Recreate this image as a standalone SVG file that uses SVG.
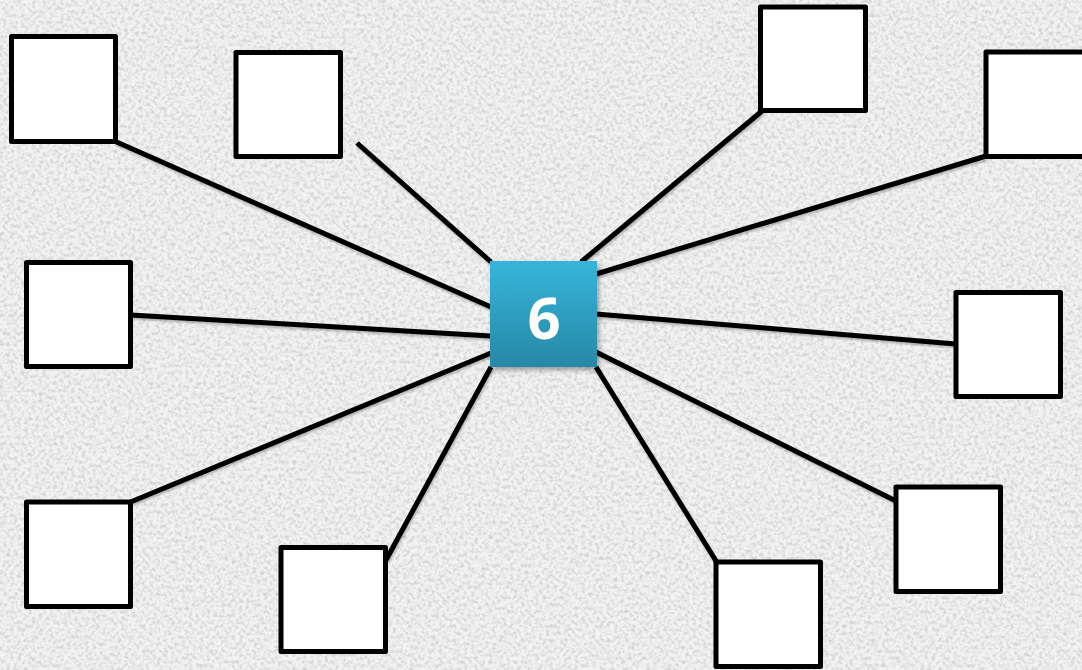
<svg xmlns="http://www.w3.org/2000/svg" width="1082" height="670" viewBox="0 0 1082 670">
<defs>
<filter id="noise" x="0" y="0" width="100%" height="100%">
<feTurbulence type="fractalNoise" baseFrequency="0.28" numOctaves="3" seed="7" result="t"/>
<feColorMatrix in="t" type="matrix" values="0 0 0 0 0  0 0 0 0 0  0 0 0 0 0  -1.6 0 0 0 0.95"/>
</filter>
<filter id="shadow" x="-20%" y="-20%" width="140%" height="140%">
<feDropShadow dx="2" dy="3" stdDeviation="2.5" flood-color="#000" flood-opacity="0.35"/>
</filter>
<filter id="lshadow" x="-10%" y="-10%" width="120%" height="120%">
<feDropShadow dx="1" dy="2" stdDeviation="1.2" flood-color="#000" flood-opacity="0.25"/>
</filter>
<linearGradient id="blue" x1="0" y1="0" x2="0" y2="1">
<stop offset="0" stop-color="#35b5da"/>
<stop offset="1" stop-color="#2888a6"/>
</linearGradient>
<style>
.box{fill:#fff;stroke:#000;stroke-width:5;stroke-linejoin:round}
.con line{stroke:#000;stroke-width:5;stroke-linecap:butt}
.lbl{font-family:"Open Sans","Liberation Sans",sans-serif;font-weight:700;font-size:58px;fill:#fff;text-anchor:middle}
</style>
</defs>
<rect width="1082" height="670" fill="#f2f2f2"/>
<rect width="1082" height="670" filter="url(#noise)" opacity="0.2"/>
<g id="connectors" class="con" filter="url(#lshadow)">
<line x1="115.5" y1="141.5" x2="491" y2="307"/>
<line x1="357" y1="143" x2="491" y2="262"/>
<line x1="762" y1="111" x2="581" y2="262"/>
<line x1="986" y1="156" x2="596" y2="274"/>
<line x1="130.5" y1="315" x2="491" y2="336"/>
<line x1="596" y1="314" x2="956" y2="344"/>
<line x1="130.5" y1="502" x2="491" y2="353"/>
<line x1="386" y1="560" x2="491" y2="367"/>
<line x1="596" y1="352" x2="896" y2="501"/>
<line x1="596" y1="367" x2="716" y2="561"/>
</g>
<g id="node-center" filter="url(#shadow)">
<rect x="490" y="261" width="107" height="106" fill="url(#blue)"/>
<text class="lbl" x="544" y="339">6</text>
</g>
<g id="node-1"><rect class="box" x="11.5" y="36.5" width="104" height="105"/></g>
<g id="node-2"><rect class="box" x="236" y="52.5" width="104.5" height="104"/></g>
<g id="node-3"><rect class="box" x="760.5" y="7" width="105" height="103.5"/></g>
<g id="node-4"><rect class="box" x="986" y="52" width="104" height="104.5"/></g>
<g id="node-5"><rect class="box" x="26.5" y="262.5" width="104" height="104"/></g>
<g id="node-6"><rect class="box" x="956" y="292.5" width="104.5" height="104"/></g>
<g id="node-7"><rect class="box" x="26.5" y="502" width="104" height="104.5"/></g>
<g id="node-8"><rect class="box" x="281" y="547.5" width="104.5" height="104"/></g>
<g id="node-9"><rect class="box" x="896" y="487" width="104.5" height="104.5"/></g>
<g id="node-10"><rect class="box" x="716" y="562" width="104.5" height="104.5"/></g>
</svg>
